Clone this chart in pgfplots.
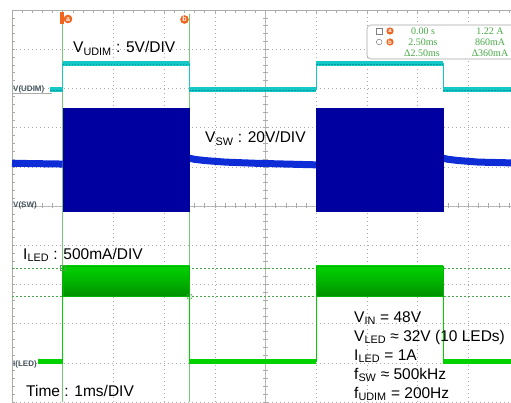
\documentclass[border=0pt]{standalone}
\usepackage{pgfplots}
\pgfplotsset{compat=1.18}
\usepackage{fontspec}
\setmainfont{Liberation Sans}
\newfontfamily\readout{Liberation Serif}

\definecolor{udim}{RGB}{20,200,200}
\definecolor{udimdark}{RGB}{0,120,125}
\definecolor{swblk}{RGB}{0,0,160}
\definecolor{swline}{RGB}{15,45,215}
\definecolor{led}{RGB}{0,210,0}
\definecolor{ledblk}{RGB}{0,180,0}
\definecolor{cursor}{RGB}{120,200,120}
\definecolor{curtxt}{RGB}{70,170,70}
\definecolor{orng}{RGB}{240,100,30}
\definecolor{gridc}{RGB}{170,172,170}
\definecolor{reflab}{RGB}{70,85,95}

\newcommand{\annfont}{\fontsize{15.5}{18}\selectfont}

\begin{document}
\begin{tikzpicture}[x=1pt,y=1pt]

% screen frame, centre crosshair and their small ticks
\draw[gridc, line width=0.6pt] (12,0) -- (12,392) -- (520,392);
\draw[gridc!80, line width=0.5pt] (12,196) -- (520,196);
\draw[gridc!80, line width=0.5pt] (265.55,0) -- (265.55,392);
\foreach \i in {0,...,50} {
  \draw[gridc, line width=0.5pt] ({12+10.142*\i},392) -- ++(0,-3);
  \draw[gridc, line width=0.5pt] ({12+10.142*\i},193.5) -- ++(0,5);
}
\foreach \j in {0,...,50} {
  \draw[gridc, line width=0.5pt] (12,{7.84*\j}) -- ++(3,0);
  \draw[gridc, line width=0.5pt] (263,{7.84*\j}) -- ++(5,0);
}
\draw[gridc, line width=0.5pt] (12,308.5) -- (52,308.5);

\begin{axis}[
    at={(12pt,0pt)}, anchor=south west,
    scale only axis,
    width=499pt, height=392pt,
    xmin=-1, xmax=8.84,
    ymin=0, ymax=10,
    axis line style={draw=none},
    xtick={-1,...,8}, ytick={0,...,10},
    xticklabels={}, yticklabels={},
    major tick length=0pt,
    grid=major,
    grid style={gridc, line width=0.5pt, dash pattern=on 1pt off 3pt},
]
% cursors
\addplot[cursor, line width=0.7pt] coordinates {(0,0) (0,9.9)};
\addplot[cursor, line width=0.7pt] coordinates {(2.5,0) (2.5,9.9)};
\addplot[curtxt, line width=0.6pt, dash pattern=on 2pt off 2pt] coordinates {(-1,3.42) (8.84,3.42)};
\addplot[curtxt, line width=0.6pt, dash pattern=on 2pt off 2pt] coordinates {(-1,2.69) (8.84,2.69)};

% V(UDIM)
\addplot[udim, line width=0.8pt] coordinates {
  (-0.25,7.97) (0,7.97) (0,8.635) (2.5,8.635) (2.5,7.97) (5,7.97)
  (5,8.635) (7.5,8.635) (7.5,7.97) (8.84,7.97)};
\addplot[udim, line width=5.5pt, unbounded coords=jump] coordinates {
  (-0.25,7.97) (0,7.97) (0,nan) (0,8.635) (2.5,8.635) (2.5,nan)
  (2.5,7.97) (5,7.97) (5,nan) (5,8.635) (7.5,8.635) (7.5,nan)
  (7.5,7.97) (8.84,7.97)};
\addplot[udimdark, opacity=0.6, line width=0.5pt, dash pattern=on 1.5pt off 1.5pt, unbounded coords=jump] coordinates {
  (-0.25,7.95) (0,7.95) (0,nan) (0,8.615) (2.5,8.615) (2.5,nan)
  (2.5,7.95) (5,7.95) (5,nan) (5,8.615) (7.5,8.615) (7.5,nan)
  (7.5,7.95) (8.84,7.95)};

% V(SW)
\addplot[swline, line width=7pt, unbounded coords=jump] coordinates {
  (-1,6.09) (-0.5,6.08) (0,6.07) (0,nan)
  (2.5,6.22) (2.6,6.19) (2.8,6.16) (3.2,6.12) (3.8,6.09) (4.4,6.07) (5,6.05) (5,nan)
  (7.5,6.22) (7.6,6.19) (7.8,6.16) (8.2,6.12) (8.84,6.10)};
\addplot[swblk, fill=swblk, line width=0.3pt] coordinates {(0,4.88) (0,7.5) (2.5,7.5) (2.5,4.88)} --cycle;
\addplot[swblk, fill=swblk, line width=0.3pt] coordinates {(5,4.88) (5,7.5) (7.5,7.5) (7.5,4.88)} --cycle;

% I(LED)
\addplot[led, line width=0.8pt] coordinates {
  (-0.49,1.03) (0,1.03) (0,2.70) (2.5,2.70) (2.5,1.03) (5,1.03)
  (5,2.70) (7.5,2.70) (7.5,1.03) (8.84,1.03)};
\addplot[led, line width=5.5pt, unbounded coords=jump] coordinates {
  (-0.49,1.03) (0,1.03) (0,nan) (2.5,1.03) (5,1.03) (5,nan) (7.5,1.03) (8.84,1.03)};
\addplot[ledblk, line width=0.3pt, top color=led, bottom color=ledblk!80!black, middle color=ledblk] coordinates {(0,2.70) (0,3.47) (2.5,3.47) (2.5,2.70)} --cycle;
\addplot[ledblk, line width=0.3pt, top color=led, bottom color=ledblk!80!black, middle color=ledblk] coordinates {(5,2.70) (5,3.47) (7.5,3.47) (7.5,2.70)} --cycle;

% cursor points
\addplot[only marks, mark=square, mark size=2.8pt, curtxt, line width=0.5pt] coordinates {(0,3.42)};
\addplot[only marks, mark=o, mark size=2.8pt, curtxt, line width=0.5pt] coordinates {(2.5,2.69)};
\end{axis}

% channel reference labels
\node[anchor=base west, inner sep=0, reflab, font=\fontsize{8}{9}\selectfont\bfseries] at (13,310) {V(UDIM)};
\node[anchor=base west, inner sep=0, reflab, font=\fontsize{8}{9}\selectfont\bfseries] at (13,194) {V(SW)};
\node[anchor=base west, inner sep=0, reflab, font=\fontsize{8}{9}\selectfont\bfseries] at (13,36) {I(LED)};

% cursor flags
\fill[orng] (59.5,378) rectangle (64,390);
\fill[orng] (68,383) circle (4.3);
\node[white, font=\fontsize{7}{7}\selectfont\bfseries, inner sep=0] at (68,382.5) {a};
\fill[orng] (184.5,382.5) circle (4.3);
\node[white, font=\fontsize{7}{7}\selectfont\bfseries, inner sep=0] at (184.5,382.5) {b};

% readout box
\draw[gray!70, fill=white, line width=0.6pt, rounded corners=4pt] (367,343) rectangle (530,377);
\draw[gray, line width=0.5pt] (376.5,368) rectangle (382,373.5);
\draw[gray, line width=0.5pt] (379.2,360) circle (2.8);
\fill[orng] (390,371) circle (3.6);
\node[white, font=\fontsize{6}{6}\selectfont\bfseries, inner sep=0] at (390,370.6) {a};
\fill[orng] (390,360) circle (3.6);
\node[white, font=\fontsize{6}{6}\selectfont\bfseries, inner sep=0] at (390,359.6) {b};
\begin{scope}[every node/.style={curtxt, inner sep=0, font=\readout\fontsize{10}{11}\selectfont}]
\node at (423,371) {0.00 s};
\node at (490,371) {1.22 A};
\node at (423,360) {2.50ms};
\node at (490,360) {860mA};
\node at (422,349) {Δ2.50ms};
\node at (490,349) {Δ360mA};
\end{scope}

% scale annotations
\begin{scope}[every node/.style={anchor=base west, inner sep=0, font=\annfont}]
\node at (73,349) {V\textsubscript{UDIM} : 5V/DIV};
\node at (205,259) {V\textsubscript{SW} : 20V/DIV};
\node at (23,143) {I\textsubscript{LED} : 500mA/DIV};
\node at (26,6) {Time : 1ms/DIV};
\node at (354,80) {V\textsubscript{IN} = 48V};
\node at (354,61) {V\textsubscript{LED} ≈ 32V (10 LEDs)};
\node at (354,42) {I\textsubscript{LED} = 1A};
\node at (354,23) {f\textsubscript{SW} ≈ 500kHz};
\node at (354,4) {f\textsubscript{UDIM} = 200Hz};
\end{scope}

\pgfresetboundingbox
\path[use as bounding box] (0,0) rectangle (511,402);
\end{tikzpicture}
\end{document}
